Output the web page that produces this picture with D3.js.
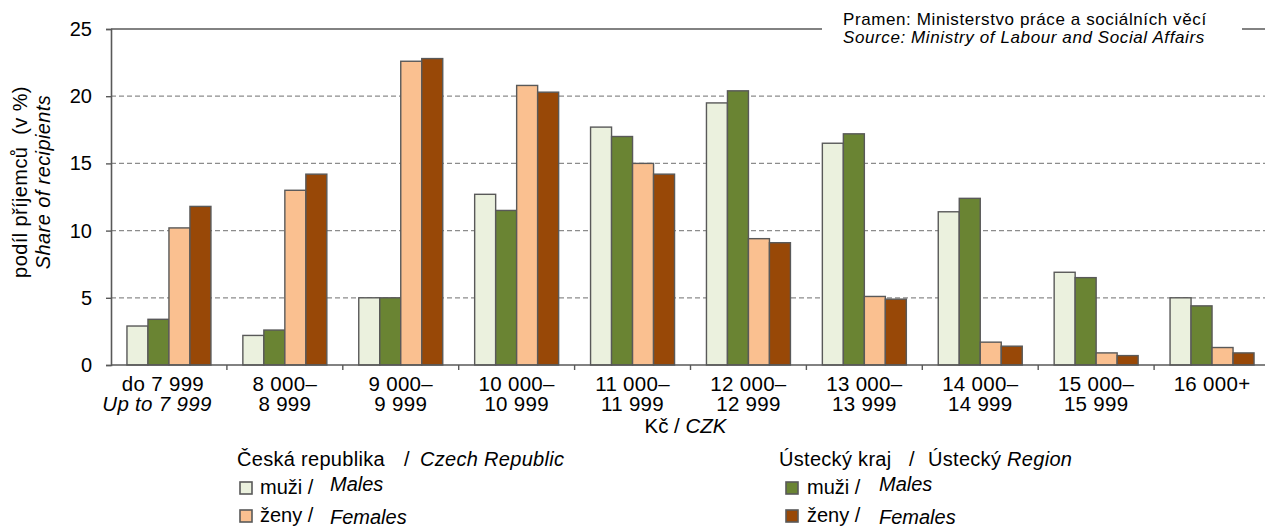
<!DOCTYPE html>
<html>
<head>
<meta charset="utf-8">
<script src="https://cdn.jsdelivr.net/npm/d3@7"></script>
<style>
  body { margin: 0; background: #fff; }
  svg { font-family: "Liberation Sans", Arial, sans-serif; }
  text { white-space: pre; }
</style>
</head>
<body>
<svg id="chart" width="1265" height="529"></svg>
<script>
'use strict';

var categories = ['g1', 'g2', 'g3', 'g4', 'g5', 'g6', 'g7', 'g8', 'g9', 'g10'];
var labelLine1 = ['do 7 999', '8 000–', '9 000–', '10 000–', '11 000–', '12 000–', '13 000–', '14 000–', '15 000–', '16 000+'];
var labelLine2 = ['Up to 7 999', '8 999', '9 999', '10 999', '11 999', '12 999', '13 999', '14 999', '15 999', ''];

var czMales   = [2.9, 2.2, 5.0, 12.7, 17.7, 19.5, 16.5, 11.4, 6.9, 5.0];
var ukMales   = [3.4, 2.6, 5.0, 11.5, 17.0, 20.4, 17.2, 12.4, 6.5, 4.4];
var czFemales = [10.2, 13.0, 22.6, 20.8, 15.0, 9.4, 5.1, 1.7, 0.9, 1.3];
var ukFemales = [11.8, 14.2, 22.8, 20.3, 14.2, 9.1, 4.9, 1.4, 0.7, 0.9];

var yTicks = [0, 5, 10, 15, 20, 25];

var series = [
  {key: 'czM', values: czMales, color: '#ebf1de'},
  {key: 'ukM', values: ukMales, color: '#6a8433'},
  {key: 'czF', values: czFemales, color: '#fac090'},
  {key: 'ukF', values: ukFemales, color: '#984807'}
];

var svg = d3.select('#chart');
var plotLeft = 111, plotRight = 1270, plotTop = 29, plotBottom = 365;
var stroke = '#595959';

var x = d3.scaleBand().domain(categories).range([plotLeft, plotRight]);
var xInner = d3.scaleBand().domain(series.map(function(s) { return s.key; }))
  .range([0, x.bandwidth()]).paddingOuter(0.76);
var y = d3.scaleLinear().domain([0, 25]).range([plotBottom, plotTop]);

// gridlines
svg.append('g').selectAll('line')
  .data(yTicks.filter(function(t) { return t > 0 && t < 25; }))
  .enter().append('line')
  .attr('x1', plotLeft).attr('x2', plotRight)
  .attr('y1', function(d) { return y(d); }).attr('y2', function(d) { return y(d); })
  .style('stroke', '#8c8c8c').style('stroke-width', 1.3).style('stroke-dasharray', '5,3');

// top border
svg.append('line')
  .attr('x1', plotLeft).attr('x2', plotRight).attr('y1', y(25)).attr('y2', y(25))
  .style('stroke', stroke).style('stroke-width', 1.6);

// bars
var groups = svg.append('g').selectAll('g')
  .data(categories)
  .enter().append('g')
  .attr('transform', function(d) { return 'translate(' + x(d) + ',0)'; });

groups.selectAll('rect')
  .data(function(d, i) {
    return series.map(function(s) { return {key: s.key, value: s.values[i], color: s.color}; });
  })
  .enter().append('rect')
  .attr('x', function(d) { return xInner(d.key); })
  .attr('width', xInner.bandwidth())
  .attr('y', function(d) { return y(d.value); })
  .attr('height', function(d) { return y(0) - y(d.value); })
  .style('fill', function(d) { return d.color; })
  .style('stroke', stroke).style('stroke-width', 1.4);

// y axis
var yAxis = d3.axisLeft(y).tickValues(yTicks).tickSize(5).tickPadding(14);
var yg = svg.append('g').attr('transform', 'translate(' + plotLeft + ',0)').call(yAxis);
yg.select('.domain').style('stroke', stroke).style('stroke-width', 1.6);
yg.selectAll('.tick line').style('stroke', stroke).style('stroke-width', 1.4);
yg.selectAll('.tick text').style('font-size', '20px').style('fill', '#000')
  .style('font-family', '"Liberation Sans", Arial, sans-serif');

// x axis
svg.append('line')
  .attr('x1', plotLeft).attr('x2', plotRight).attr('y1', plotBottom).attr('y2', plotBottom)
  .style('stroke', stroke).style('stroke-width', 1.6);
svg.append('g').selectAll('line')
  .data(categories.slice(1))
  .enter().append('line')
  .attr('x1', function(d) { return x(d); }).attr('x2', function(d) { return x(d); })
  .attr('y1', plotBottom).attr('y2', plotBottom + 5)
  .style('stroke', stroke).style('stroke-width', 1.4);

function cx(d) { return x(d) + x.bandwidth() / 2; }
var xl = svg.append('g').selectAll('text')
  .data(categories)
  .enter().append('text')
  .attr('text-anchor', 'middle')
  .style('font-size', '20.5px').style('letter-spacing', '0.3px');
xl.append('tspan').attr('x', function(d, i) { return cx(d) - (i === 0 ? 6 : 0); })
  .attr('y', 391).text(function(d, i) { return labelLine1[i]; });
xl.append('tspan').attr('x', function(d, i) { return cx(d) - (i === 0 ? 12 : 0); })
  .attr('y', 411)
  .style('font-style', function(d, i) { return i === 0 ? 'italic' : 'normal'; })
  .text(function(d, i) { return labelLine2[i]; });

var xt = svg.append('text').attr('x', (plotLeft + plotRight) / 2 - 5).attr('y', 433)
  .attr('text-anchor', 'middle').style('font-size', '20.5px');
xt.append('tspan').text('Kč / ');
xt.append('tspan').style('font-style', 'italic').text('CZK');

// y axis title
var yt = svg.append('text').attr('transform', 'translate(27,182) rotate(-90)')
  .attr('text-anchor', 'middle').style('font-size', '20px').style('letter-spacing', '0.4px');
yt.append('tspan').attr('x', 0).attr('y', 0).text('podíl příjemců  (v %)');
yt.append('tspan').attr('x', 0).attr('y', 23).style('font-style', 'italic').text('Share of recipients');

// source
svg.append('rect').attr('x', 822).attr('y', 4).attr('width', 420).attr('height', 46).style('fill', '#fff');
svg.append('text').attr('x', 843).attr('y', 25).style('font-size', '17px').style('letter-spacing', '0.6px')
  .text('Pramen: Ministerstvo práce a sociálních věcí');
svg.append('text').attr('x', 843).attr('y', 43).style('font-size', '17px').style('letter-spacing', '0.6px')
  .style('font-style', 'italic').text('Source: Ministry of Labour and Social Affairs');

// legends
var legends = [
  {x: 237, slash: 404, enX: 420, box: 240, item: 260, itemEn: 330,
    title: ['Česká republika', 'Czech Republic'], items: [
    {label: 'muži /', en: 'Males', color: series[0].color},
    {label: 'ženy /', en: 'Females', color: series[2].color}]},
  {x: 779, slash: 909, enX: 928, box: 786, item: 807, itemEn: 879,
    title: ['Ústecký kraj', 'Ústecký ', 'Region'], items: [
    {label: 'muži /', en: 'Males', color: series[1].color},
    {label: 'ženy /', en: 'Females', color: series[3].color}]}
];

legends.forEach(function(lg) {
  var t = svg.append('text').attr('y', 466).style('font-size', '20px').style('letter-spacing', '0.3px');
  t.append('tspan').attr('x', lg.x).text(lg.title[0]);
  t.append('tspan').attr('x', lg.slash).text('/');
  if (lg.title.length === 3) {
    t.append('tspan').attr('x', lg.enX).text(lg.title[1]);
    t.append('tspan').style('font-style', 'italic').text(lg.title[2]);
  } else {
    t.append('tspan').attr('x', lg.enX).style('font-style', 'italic').text(lg.title[1]);
  }
  lg.items.forEach(function(it, i) {
    var base = 494 + i * 28;
    svg.append('rect').attr('x', lg.box).attr('y', base - 12).attr('width', 12).attr('height', 12)
      .style('fill', it.color).style('stroke', stroke).style('stroke-width', 1.6);
    svg.append('text').attr('x', lg.item).attr('y', base).style('font-size', '20px').text(it.label);
    svg.append('text').attr('x', lg.itemEn).attr('y', base - 3 + i * 5).style('font-size', '20px')
      .style('font-style', 'italic').text(it.en);
  });
});
</script>
</body>
</html>
